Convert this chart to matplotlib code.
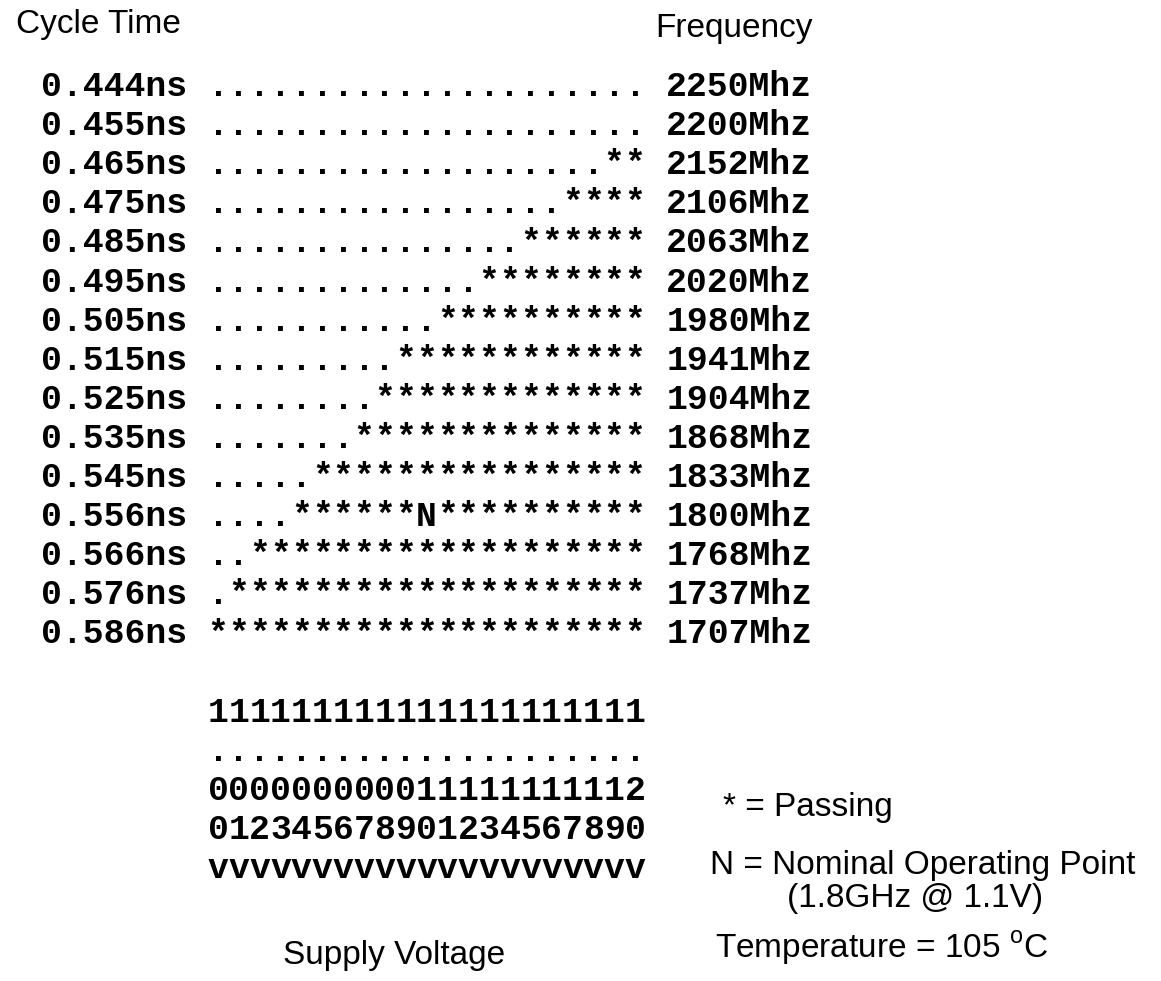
import matplotlib.pyplot as plt

# shmoo data: rows = cycle time / frequency, columns = supply voltage
cycle_time_ns = [0.444, 0.455, 0.465, 0.475, 0.485, 0.495, 0.505, 0.515,
                 0.525, 0.535, 0.545, 0.556, 0.566, 0.576, 0.586]
frequency_mhz = [2250, 2200, 2152, 2106, 2063, 2020, 1980, 1941,
                 1904, 1868, 1833, 1800, 1768, 1737, 1707]
supply_voltage = [1.00, 1.01, 1.02, 1.03, 1.04, 1.05, 1.06, 1.07, 1.08, 1.09, 1.10,
                  1.11, 1.12, 1.13, 1.14, 1.15, 1.16, 1.17, 1.18, 1.19, 1.20]
# lowest passing voltage for each row (None = nothing passes)
min_pass_voltage = [None, None, 1.19, 1.17, 1.15, 1.13, 1.11, 1.09,
                    1.08, 1.07, 1.05, 1.04, 1.02, 1.01, 1.00]
nominal_voltage = 1.10
nominal_freq = 1800

W, H = 1161, 981
MONO = dict(family='Liberation Mono', weight='bold', size=25, color='black')
SANS = dict(family='Liberation Sans', size=24, color='black')
plt.rcParams['mathtext.fontset'] = 'custom'
plt.rcParams['mathtext.rm'] = 'Liberation Sans'

fig = plt.figure(figsize=(W / 100, H / 100), dpi=100)
ax = fig.add_axes([0, 0, 1, 1])
# one data unit = one character cell of the printout
col_px, row_px = 20.85, 39.1
x0_px, y0_px = 218, 96
ax.set_xlim(-x0_px / col_px, (W - x0_px) / col_px)
ax.set_ylim((H - y0_px) / row_px, -y0_px / row_px)
ax.axis('off')

n_rows = len(cycle_time_ns)
n_cols = len(supply_voltage)

for r, (t, f, vmin) in enumerate(zip(cycle_time_ns, frequency_mhz, min_pass_voltage)):
    ax.text(-1.5, r, f"{t:.3f}ns", ha='right', va='baseline', **MONO)
    ax.text(n_cols + 0.5, r, f"{f}Mhz", ha='left', va='baseline', **MONO)
    for c, v in enumerate(supply_voltage):
        if abs(v - nominal_voltage) < 1e-9 and f == nominal_freq:
            ch = 'N'
        elif vmin is not None and v >= vmin - 1e-9:
            ch = '*'
        else:
            ch = '.'
        ax.text(c, r, ch, ha='center', va='baseline', **MONO)

# voltage labels written vertically under each column
for c, v in enumerate(supply_voltage):
    for k, ch in enumerate(f"{v:.2f}v"):
        ax.text(c, n_rows + 1 + k, ch, ha='center', va='baseline', **MONO)

def ftext(xp, yp, s):
    fig.text(xp / W, 1 - yp / H, s, ha='left', va='baseline', **SANS)

ftext(16, 33, "Cycle Time")
ftext(655, 37, "Frequency")
ftext(723, 816, "* = Passing")
ftext(710, 874, "N = Nominal Operating Point")
ftext(787, 907, "(1.8GHz @ 1.1V)")
ftext(715, 958, r"Temperature = 105 $^{\mathrm{o}}$C")
ftext(283, 964, "Supply Voltage")

fig.savefig("out.png", dpi=100)
